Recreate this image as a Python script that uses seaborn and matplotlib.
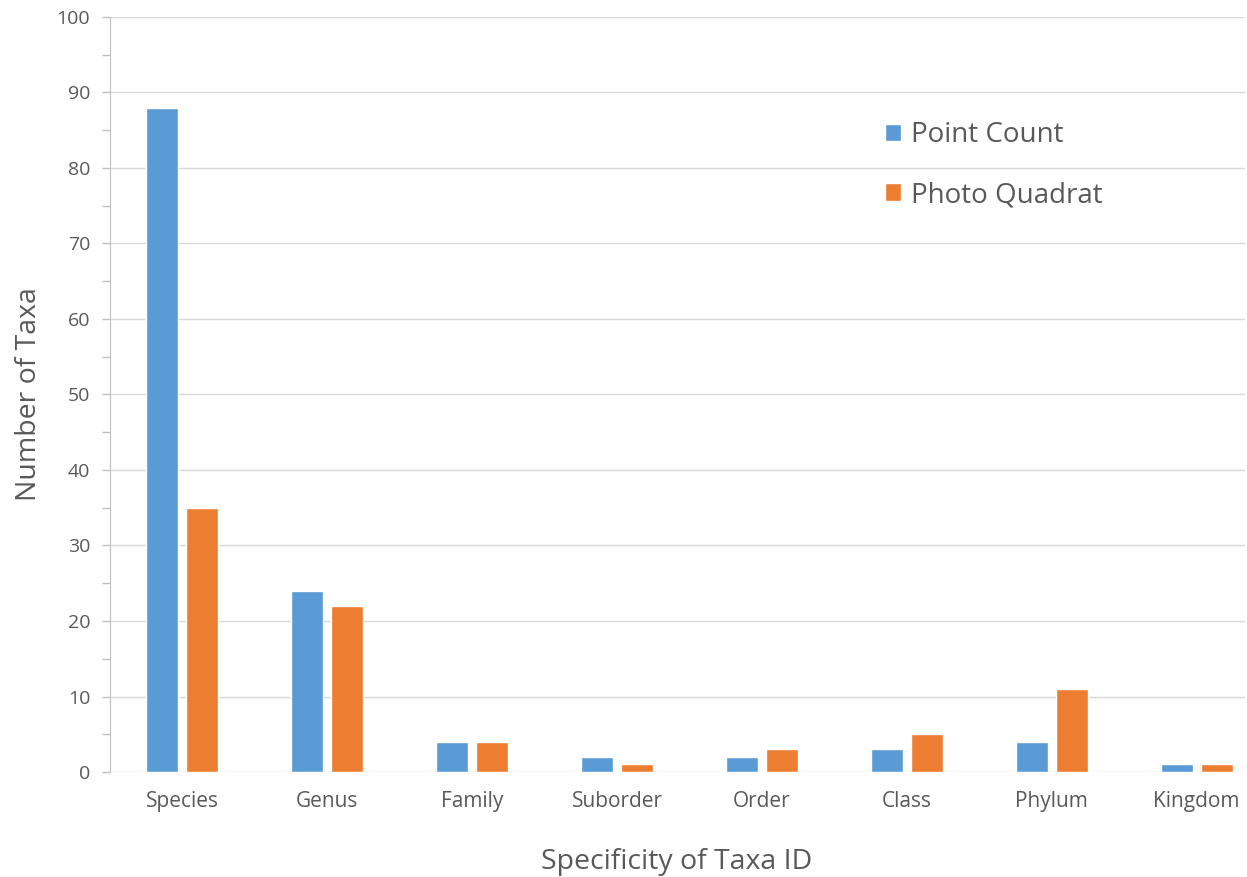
import pandas as pd
import matplotlib.pyplot as plt
import seaborn as sns

categories = ["Species", "Genus", "Family", "Suborder", "Order", "Class", "Phylum", "Kingdom"]
point_count = [88, 24, 4, 2, 2, 3, 4, 1]
photo_quadrat = [35, 22, 4, 1, 3, 5, 11, 1]
series_names = ["Point Count", "Photo Quadrat"]
colors = ["#5B9BD5", "#ED7D31"]

df = pd.DataFrame({
    "taxa": categories * 2,
    "count": point_count + photo_quadrat,
    "method": [series_names[0]] * len(categories) + [series_names[1]] * len(categories),
})

sns.set_style("white")
plt.rcParams["font.family"] = ["Open Sans", "DejaVu Sans"]
text_grey = "#595959"

fig = plt.figure(figsize=(12.47, 8.77), dpi=100)
ax = fig.add_axes([0.088, 0.1197, 0.91, 0.861])

sns.barplot(data=df, x="taxa", y="count", hue="method", palette=colors,
            width=0.55, gap=0.2, ax=ax, saturation=1)

ax.set_ylim(0, 100)
ax.set_xlim(-0.5, 7.33)
ax.set_yticks(range(0, 101, 10))
ax.set_yticks(range(5, 100, 10), minor=True)
ax.yaxis.grid(True, color="#D9D9D9", linewidth=1)
ax.set_axisbelow(True)
ax.tick_params(axis="y", which="both", left=True, length=6, width=1,
               color="#BFBFBF", labelsize=14, labelcolor=text_grey, pad=8)
ax.tick_params(axis="x", bottom=False, labelsize=15, labelcolor=text_grey, pad=10)

for side in ["top", "right", "bottom"]:
    ax.spines[side].set_visible(False)
ax.spines["left"].set_color("#BFBFBF")

ax.set_xlabel("Specificity of Taxa ID", fontsize=20.5, color=text_grey, labelpad=26)
ax.set_ylabel("Number of Taxa", fontsize=20.5, color=text_grey, labelpad=10)

leg = ax.legend(loc="upper left", bbox_to_anchor=(0.683, 0.862), frameon=False,
                fontsize=20, handlelength=0.6, handleheight=0.6,
                handletextpad=0.35, labelspacing=1.15,
                borderaxespad=0, borderpad=0)
for t in leg.get_texts():
    t.set_color(text_grey)

fig.savefig("out.png", dpi=100)
